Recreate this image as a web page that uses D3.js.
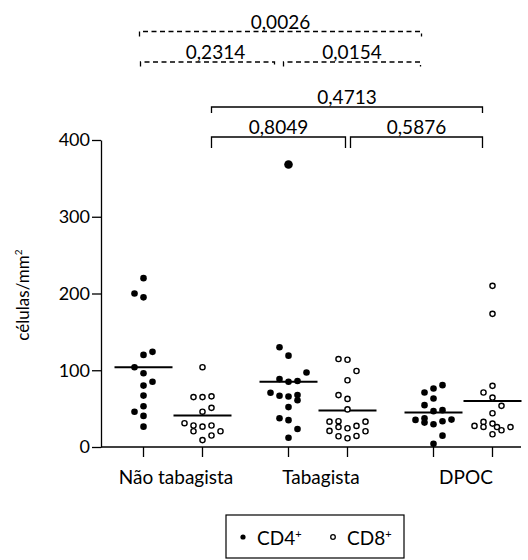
<!DOCTYPE html>
<html><head><meta charset="utf-8">
<script src="https://cdn.jsdelivr.net/npm/d3@7"></script>
<style>
body{margin:0;background:#fff}
svg{display:block}
text{font-family:Lato,"Liberation Sans",sans-serif;fill:#000}
</style>
</head><body>
<svg id="c" width="528" height="560"></svg>
<script>
// ---------- data ----------
const groups = ["Não tabagista", "Tabagista", "DPOC"];
const seriesNames = ["CD4", "CD8"];
const yTicks = [0, 100, 200, 300, 400];

const cd4NaoTab = [220, 200, 195, 124, 120, 104, 96, 85, 80, 67, 53, 46, 40.5, 26.5];
const cd4NaoTabSlot = [0, -1, 0, 1, 0, -1, 0, 1, 0, 0, 0, -1, 0, 0];
const cd8NaoTab = [104, 65, 65, 66, 46, 51, 31, 28, 26.5, 28, 20.5, 20.5, 15, 9];
const cd8NaoTabSlot = [0, -1, 0, 1, 0, 1, -2, -1, 0, 1, -1, 2, 1, 0];

const cd4Tab = [368, 130, 119, 97, 88.5, 85, 86, 70.6, 66.7, 65.8, 67.6, 61, 52, 37.5, 35, 23.5, 12];
const cd4TabSlot = [0, -1, 0, 2, -1, 0, 1, -2, -1, 0, 1, 1, 0, -1, 0, 1, 0];
const cd8Tab = [114.6, 113.7, 99, 87, 67.6, 62.7, 49, 33, 33.6, 33, 21, 26, 24.4, 27.5, 20.5, 14, 11.4, 14.4];
const cd8TabSlot = [-1, 0, 1, 0, -1, 0, 0, -2, -1, 2, -2, -1, 0, 1, 2, -1, 0, 1];

const cd4Dpoc = [80.6, 76.2, 71, 63.2, 54.5, 46.7, 48, 35.3, 37.5, 31.8, 29.7, 33.6, 35.7, 14.8, 4.3];
const cd4DpocSlot = [1, 0, -1, 0, -1, 0, 1, -2, -1, -1, 0, 1, 2, 1, 0];
const cd8Dpoc = [210, 173.5, 79.7, 71, 64.4, 53.6, 44, 32.7, 27.5, 26.1, 30.5, 26, 21.8, 26, 16.6];
const cd8DpocSlot = [0, 0, 0, -1, 0, 1, 0, -1, -2, -1, 0, 0.5, 1, 2, 0];

const cd4Median = [104, 85, 45];
const cd8Median = [41, 47.5, 60];

const pLabels = ["0,0026", "0,2314", "0,0154", "0,4713", "0,8049", "0,5876"];
const legendLabels = ["CD4", "CD8"];

// ---------- layout ----------
const svg = d3.select("#c");
const y = d3.scaleLinear().domain([0, 400]).range([447, 140]);
const xGroup = d3.scaleBand().domain(groups).range([100.5, 535.5]).padding(0);
const xSeries = d3.scalePoint().domain(seriesNames).range([0, xGroup.bandwidth()]).padding(0.729);
const X = (g, s) => xGroup(g) + xSeries(s);
const slotW = 9;

const pts = [];
const sets = [
  [0, "CD4", cd4NaoTab, cd4NaoTabSlot], [0, "CD8", cd8NaoTab, cd8NaoTabSlot],
  [1, "CD4", cd4Tab, cd4TabSlot], [1, "CD8", cd8Tab, cd8TabSlot],
  [2, "CD4", cd4Dpoc, cd4DpocSlot], [2, "CD8", cd8Dpoc, cd8DpocSlot]
];
sets.forEach(([gi, s, vals, slots]) => vals.forEach((v, i) =>
  pts.push({g: groups[gi], s, v, slot: slots[i]})));

// axes
const yAxis = d3.axisLeft(y).tickValues(yTicks).tickSize(9).tickPadding(2).tickSizeOuter(0);
const yg = svg.append("g").attr("transform", "translate(101,0)").call(yAxis);
yg.select(".domain").attr("stroke", "#000").attr("stroke-width", 1.3);
yg.selectAll(".tick line").attr("stroke", "#000").attr("stroke-width", 1.3);
yg.selectAll(".tick text").style("font-size", "18px").attr("fill", "#000");

// x axis line and ticks
svg.append("line").attr("x1", 101).attr("x2", 521).attr("y1", y(0)).attr("y2", y(0))
  .attr("stroke", "#000").attr("stroke-width", 1.3);
groups.forEach(g => seriesNames.forEach(s => {
  svg.append("line").attr("x1", X(g, s)).attr("x2", X(g, s))
    .attr("y1", y(0)).attr("y2", y(0) + 10).attr("stroke", "#000").attr("stroke-width", 1.3);
}));
svg.append("g").selectAll("text").data(groups).join("text")
  .attr("x", g => xGroup(g) + xGroup.bandwidth() / 2 + 3)
  .attr("y", 484).attr("text-anchor", "middle").style("font-size", "19px").text(g => g);

// y title
const yt = svg.append("text").attr("transform", "translate(29,295) rotate(-90)")
  .attr("text-anchor", "middle").style("font-size", "17px");
yt.append("tspan").text("células/mm");
yt.append("tspan").attr("dy", -7).style("font-size", "10px").text("2");

// medians
const med = [];
groups.forEach((g, i) => {
  med.push({g, s: "CD4", v: cd4Median[i]});
  med.push({g, s: "CD8", v: cd8Median[i]});
});
svg.append("g").selectAll("line").data(med).join("line")
  .attr("x1", d => X(d.g, d.s) - 29).attr("x2", d => X(d.g, d.s) + 29)
  .attr("y1", d => y(d.v)).attr("y2", d => y(d.v))
  .attr("stroke", "#000").attr("stroke-width", 2);

// points
svg.append("g").selectAll("circle").data(pts).join("circle")
  .attr("cx", d => X(d.g, d.s) + d.slot * slotW)
  .attr("cy", d => y(d.v))
  .attr("r", d => d.s === "CD4" ? (d.v > 300 ? 4.3 : 3.3) : 2.6)
  .attr("fill", d => d.s === "CD4" ? "#000" : "#fff")
  .attr("stroke", "#000")
  .attr("stroke-width", d => d.s === "CD4" ? 0 : 1.4);

// brackets
const brackets = [
  {a: [0, "CD4", -4], b: [2, "CD4", -12], yl: 31.5, drop: 5, dash: true, label: pLabels[0], dx: 0},
  {a: [0, "CD4", -3], b: [1, "CD4", -14], yl: 62, drop: 4.5, dash: true, label: pLabels[1], dx: 8},
  {a: [1, "CD4", -5], b: [2, "CD4", -13], yl: 62, drop: 4.5, dash: true, label: pLabels[2], dx: 0},
  {a: [0, "CD8", 9], b: [2, "CD8", -10], yl: 107, drop: 6, dash: false, label: pLabels[3], dx: 0},
  {a: [0, "CD8", 9], b: [1, "CD8", -2], yl: 137, drop: 11, dash: false, label: pLabels[4], dx: 0},
  {a: [1, "CD8", 3], b: [2, "CD8", -10], yl: 137, drop: 11, dash: false, label: pLabels[5], dx: 0}
];
brackets.forEach(b => {
  const x1 = X(groups[b.a[0]], b.a[1]) + b.a[2];
  const x2 = X(groups[b.b[0]], b.b[1]) + b.b[2];
  svg.append("path")
    .attr("d", `M${x1},${b.yl + b.drop}V${b.yl}H${x2}V${b.yl + b.drop}`)
    .attr("fill", "none").attr("stroke", "#000").attr("stroke-width", 1.3)
    .attr("stroke-dasharray", b.dash ? "5,3.5" : null);
  svg.append("text").attr("x", (x1 + x2) / 2 + b.dx).attr("y", b.yl - 3)
    .attr("text-anchor", "middle").style("font-size", "19px").text(b.label);
});

// legend
const lg = svg.append("g");
lg.append("rect").attr("x", 226).attr("y", 515).attr("width", 178).attr("height", 43)
  .attr("fill", "#fff").attr("stroke", "#000").attr("stroke-width", 1.2);
const legX = [243, 333];
legendLabels.forEach((l, i) => {
  lg.append("circle").attr("cx", legX[i]).attr("cy", 537).attr("r", i === 0 ? 2.6 : 2.3)
    .attr("fill", i === 0 ? "#000" : "#fff").attr("stroke", "#000").attr("stroke-width", i === 0 ? 0 : 1.3);
  const t = lg.append("text").attr("x", legX[i] + 14).attr("y", 545).style("font-size", "19px");
  t.append("tspan").text(l);
  t.append("tspan").attr("dy", -7).style("font-size", "11px").text("+");
});
</script>
</body></html>
